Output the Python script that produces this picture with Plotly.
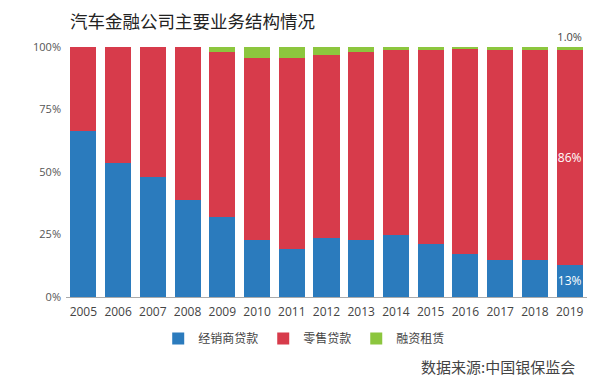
import plotly.graph_objects as go

years = [str(y) for y in range(2005, 2020)]
dealer = [66.6, 53.5, 47.9, 38.9, 31.9, 22.9, 19.4, 23.8, 22.9, 24.9, 21.3, 17.4, 15.0, 14.8, 12.9]
retail = [33.4, 46.5, 52.1, 61.1, 66.2, 72.7, 76.2, 73.0, 75.0, 73.8, 77.7, 82.1, 83.8, 83.9, 86.1]
leasing = [0, 0, 0, 0, 1.9, 4.4, 4.4, 3.2, 2.1, 1.3, 1.0, 0.5, 1.2, 1.3, 1.0]

dealer_txt = [""] * 14 + ["13%"]
retail_txt = [""] * 14 + ["86%"]
leasing_txt = [""] * 14 + ["1.0%"]

y_ticks = [0, 25, 50, 75, 100]
y_tick_labels = ["0%", "25%", "50%", "75%", "100%"]

names = ["经销商贷款", "零售贷款", "融资租赁"]
colors = ["#2b7bbd", "#d73b4b", "#8cc63e"]

FONT = "Open Sans, Noto Sans CJK SC, sans-serif"

fig = go.Figure()
fig.add_trace(go.Bar(x=years, y=dealer, name=names[0], marker=dict(color=colors[0], line=dict(width=0)),
                     text=dealer_txt, textposition="inside", insidetextanchor="middle",
                     textangle=0, constraintext="none",
                     insidetextfont=dict(color="white", size=12, family=FONT)))
fig.add_trace(go.Bar(x=years, y=retail, name=names[1], marker=dict(color=colors[1], line=dict(width=0)),
                     text=retail_txt, textposition="inside", insidetextanchor="middle",
                     textangle=0, constraintext="none",
                     insidetextfont=dict(color="white", size=12, family=FONT)))
fig.add_trace(go.Bar(x=years, y=leasing, name=names[2], marker=dict(color=colors[2], line=dict(width=0)),
                     text=leasing_txt, textposition="outside", textangle=0, constraintext="none",
                     outsidetextfont=dict(color="#444", size=11, family=FONT), cliponaxis=False))

fig.update_layout(
    barmode="stack",
    bargap=0.25,
    width=600, height=388,
    margin=dict(l=66, r=13, t=47, b=91, autoexpand=False),
    paper_bgcolor="white", plot_bgcolor="white",
    font=dict(family=FONT, color="#444"),
    title=dict(text="汽车金融公司主要业务结构情况", x=70/600, xanchor="left",
               y=1 - 22/388, yanchor="middle",
               font=dict(size=17.5, color="#222", family="Noto Sans CJK SC, sans-serif")),
    showlegend=True,
    legend=dict(orientation="h", x=0.177, xanchor="left", y=-0.166, yanchor="middle",
                font=dict(size=12, color="#444", family="Noto Sans CJK SC, sans-serif"),
                traceorder="normal", bgcolor="rgba(0,0,0,0)"),
    annotations=[dict(text="数据来源:中国银保监会", xref="paper", yref="paper",
                      x=0.98, y=-0.278, xanchor="right", yanchor="middle", showarrow=False,
                      font=dict(size=15, color="#444", family="Noto Sans CJK SC, sans-serif"))],
)
fig.update_xaxes(type="category", range=[-0.5, 14.5], showline=True, linecolor="#aaa", linewidth=1,
                 ticks="", tickfont=dict(size=12, color="#444"), showgrid=False, automargin=False,
                 ticklabelstandoff=4)
fig.update_yaxes(range=[0, 100], tickmode="array", tickvals=y_ticks, ticktext=y_tick_labels,
                 showgrid=False, zeroline=False, tickfont=dict(size=11, color="#555"),
                 automargin=False, ticklabelstandoff=4)

fig.write_html("out.html", config={"displayModeBar": False},
               post_script="document.body.style.margin='0';")
